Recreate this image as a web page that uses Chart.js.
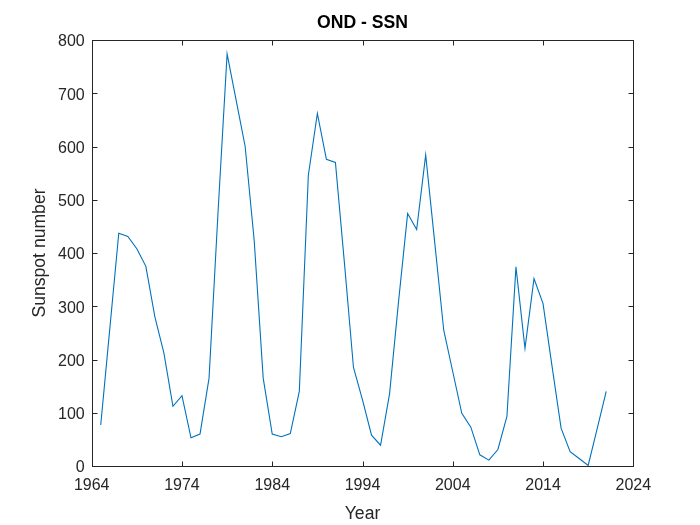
<!DOCTYPE html>
<html>
<head>
<meta charset="utf-8">
<script src="https://cdn.jsdelivr.net/npm/chart.js@4/dist/chart.umd.min.js"></script>
<style>
  html, body { margin: 0; padding: 0; background: #ffffff; }
  #c { display: block; }
</style>
</head>
<body>
<canvas id="c" width="700" height="525"></canvas>
<script>
const years = [1965,1966,1967,1968,1969,1970,1971,1972,1973,1974,1975,1976,1977,1978,1979,1980,
  1981,1982,1983,1984,1985,1986,1987,1988,1989,1990,1991,1992,1993,1994,1995,1996,1997,1998,1999,2000,
  2001,2002,2003,2004,2005,2006,2007,2008,2009,2010,2011,2012,2013,2014,2015,2016,2017,2018,2019,2020,2021];
const ssn = [77,257,437,431,408,375,280,212,112,132,53,60,165,478,774,687,
  600,424,165,60,55,61,140,546,662,576,570,381,185,124,58,39,136,310,474,444,
  584,420,255,177,99,73,21,11,31,93,374,221,352,305,187,71,27,14,1,70,140];
const xTicks = [1964,1974,1984,1994,2004,2014,2024];
const yTicks = [0,100,200,300,400,500,600,700,800];
const titleText = 'OND - SSN';
const xLabel = 'Year';
const yLabel = 'Sunspot number';

const axisColor = '#262626';
const fontFam = '"Liberation Sans", Arial, Helvetica, sans-serif';

const boxPlugin = {
  id: 'matlabBox',
  afterDraw(chart) {
    const ctx = chart.ctx;
    const a = chart.chartArea;
    const xs = chart.scales.x, ys = chart.scales.y;
    ctx.save();
    ctx.strokeStyle = axisColor;
    ctx.lineWidth = 1;
    const L = Math.round(a.left) + 0.5, R = Math.round(a.right) + 0.5;
    const T = Math.round(a.top) + 0.5, B = Math.round(a.bottom) + 0.5;
    ctx.strokeRect(L, T, R - L, B - T);
    const tl = 5;
    ctx.beginPath();
    xTicks.forEach(v => {
      const px = Math.round(xs.getPixelForValue(v)) + 0.5;
      ctx.moveTo(px, B); ctx.lineTo(px, B - tl);
      ctx.moveTo(px, T); ctx.lineTo(px, T + tl);
    });
    yTicks.forEach(v => {
      const py = Math.round(ys.getPixelForValue(v)) + 0.5;
      ctx.moveTo(L, py); ctx.lineTo(L + tl, py);
      ctx.moveTo(R, py); ctx.lineTo(R - tl, py);
    });
    ctx.stroke();
    ctx.fillStyle = '#000000';
    ctx.font = 'bold 17.6px ' + fontFam;
    ctx.textAlign = 'center';
    ctx.textBaseline = 'middle';
    ctx.fillText(titleText, (a.left + a.right) / 2, 23);
    ctx.restore();
  }
};

const bgPlugin = {
  id: 'bg',
  beforeDraw(chart) {
    const ctx = chart.ctx;
    ctx.save();
    ctx.fillStyle = '#ffffff';
    ctx.fillRect(0, 0, chart.width, chart.height);
    ctx.restore();
  }
};

new Chart(document.getElementById('c'), {
  type: 'line',
  data: {
    datasets: [{
      data: years.map((y, i) => ({ x: y, y: ssn[i] })),
      borderColor: '#0072BD',
      borderWidth: 1.1,
      pointRadius: 0,
      tension: 0,
      fill: false
    }]
  },
  options: {
    responsive: false,
    animation: false,
    devicePixelRatio: 1,
    layout: { padding: { left: 0, right: 66.7, top: 40, bottom: 0 } },
    plugins: { legend: { display: false }, tooltip: { enabled: false }, title: { display: false } },
    scales: {
      x: {
        type: 'linear',
        min: 1964, max: 2024,
        afterBuildTicks(scale) { scale.ticks = xTicks.map(v => ({ value: v })); },
        afterFit(scale) { scale.height = 59; },
        grid: { display: false, drawTicks: false },
        border: { display: false },
        ticks: { padding: 10, color: axisColor, font: { family: fontFam, size: 16 }, maxRotation: 0,
                 callback: v => String(v) },
        title: { display: true, text: xLabel, color: axisColor, font: { family: fontFam, size: 17.6 },
                 padding: { top: 5.5, bottom: 0 } }
      },
      y: {
        min: 0, max: 800,
        afterBuildTicks(scale) { scale.ticks = yTicks.map(v => ({ value: v })); },
        afterFit(scale) { scale.width = 91.7; },
        grid: { display: false, drawTicks: false },
        border: { display: false },
        ticks: { padding: 7, labelOffset: 2, color: axisColor, font: { family: fontFam, size: 16 },
                 callback: v => String(v) },
        title: { display: true, text: yLabel, color: axisColor, font: { family: fontFam, size: 17.6 },
                 padding: { top: 29.5, bottom: 0 } }
      }
    }
  },
  plugins: [bgPlugin, boxPlugin]
});
</script>
</body>
</html>
